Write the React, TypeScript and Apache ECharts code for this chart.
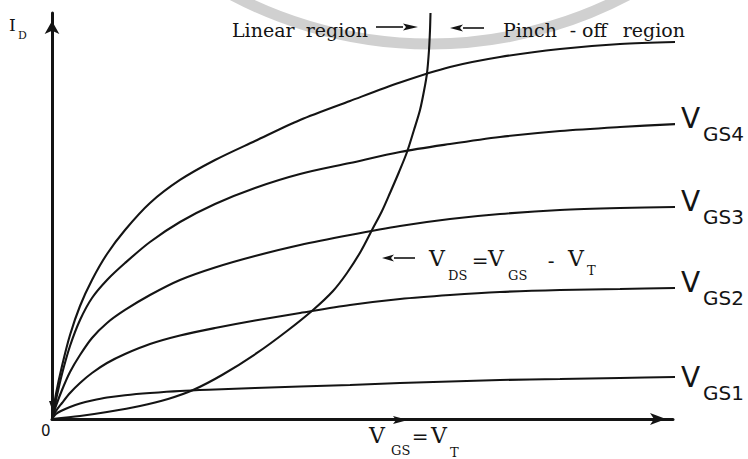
import React, { useEffect, useRef } from "react";
import * as echarts from "echarts";

// Drain characteristics in relative units (0-100 on each axis).
// Common V_DS sample positions shared by the four V_GS curves and the top curve.
const vds = [
  0, 0.64, 1.61, 2.9, 4.51, 6.44, 8.86, 11.76, 15.78, 20.61, 26.25, 32.69, 39.94, 47.99, 56.04,
  64.09, 72.14, 81.8, 91.47, 100.64,
];
const idTop = [
  0, 6.16, 13.05, 20.69, 27.83, 34.24, 40.64, 46.55, 53.2, 58.87, 63.79, 68.47, 73.65, 78.33, 82.88,
  86.7, 89.16, 91.13, 92.36, 92.86,
];
const idVgs4 = [
  0, 4.68, 11.08, 17.98, 24.38, 29.8, 34.24, 38.42, 43.6, 48.52, 52.96, 56.9, 60.34, 63.05, 65.76,
  67.73, 69.46, 70.94, 71.92, 72.66,
];
const idVgs3 = [
  0, 3.2, 7.14, 11.58, 15.76, 19.95, 23.65, 26.85, 30.54, 34.24, 37.32, 40.15, 42.86, 45.32, 47.54,
  49.26, 50.49, 51.48, 51.97, 52.22,
];
const idVgs2 = [
  0, 1.97, 3.94, 6.4, 8.87, 11.33, 13.79, 16.01, 18.47, 20.57, 22.41, 24.26, 26.11, 28.08, 29.56,
  30.54, 31.28, 31.77, 32.02, 32.27,
];
const idVgs1 = [
  0, 1.23, 2.09, 2.96, 3.82, 4.56, 5.3, 5.86, 6.4, 6.9, 7.27, 7.64, 8.0, 8.37, 8.87, 9.24, 9.61,
  9.85, 10.1, 10.34,
];
// Locus V_DS = V_GS - V_T separating the linear and pinch-off regions
const locusVds = [
  0, 4.51, 8.86, 14.17, 18.68, 22.71, 27.38, 33.01, 37.84, 42.03, 45.25, 47.5, 49.76, 51.53, 53.14,
  54.43, 55.88, 57.17, 58.29, 59.26, 59.9, 60.39, 60.71, 60.87, 60.95,
];
const locusId = [
  0, 0.74, 1.72, 3.2, 4.93, 7.14, 10.84, 16.26, 21.67, 26.85, 31.53, 35.96, 41.38, 46.55, 51.23,
  55.67, 60.84, 65.76, 71.18, 76.11, 80.79, 85.22, 90.89, 95.81, 100,
];

const curveLabels = ["GS4", "GS3", "GS2", "GS1"];
const curveLabelCenters = [118, 201, 282, 377];

const INK = "#141414";
const SERIF = '"DejaVu Serif", serif';
const SANS = '"DejaVu Sans", sans-serif';

const zip = (xs: number[], ys: number[]) => xs.map((x, i) => [x, ys[i]]);

function text(x: number, y: number, str: string, size: number, family = SERIF, align = "left") {
  return {
    type: "text",
    x,
    y,
    z: 100,
    style: {
      text: str,
      font: `${size}px ${family}`,
      fill: INK,
      align,
      textAlign: align,
      verticalAlign: "middle",
      textVerticalAlign: "middle",
    },
  };
}

function arrow(x1: number, x2: number, y: number, headLen: number, halfW: number) {
  // straight arrow from x1 (tail) to x2 (tip)
  const dir = x2 > x1 ? 1 : -1;
  const base = x2 - dir * headLen;
  return [
    { type: "line", z: 100, shape: { x1, y1: y, x2: base, y2: y }, style: { stroke: INK, lineWidth: 1.6 } },
    {
      type: "polygon",
      z: 100,
      shape: { points: [[x2, y], [base, y - halfW], [base + dir * 3, y], [base, y + halfW]] },
      style: { fill: INK },
    },
  ];
}

export default function App() {
  const ref = useRef<HTMLDivElement>(null);

  useEffect(() => {
    if (!ref.current) return;
    const chart = echarts.init(ref.current, null, { renderer: "svg" });

    const lineSeries = (data: number[][]) => ({
      type: "line",
      data,
      smooth: 0.3,
      showSymbol: false,
      symbol: "none",
      clip: false,
      lineStyle: { color: INK, width: 2.1 },
      z: 5,
    });

    const graphics: any[] = [
      // faint ring in the page background
      {
        type: "arc",
        z: 0,
        shape: { cx: 430, cy: -380, r: 424, startAngle: 1.0, endAngle: 2.14 },
        style: { stroke: "#d0d0d0", lineWidth: 11, fill: "none" },
      },
      text(9, 25, "I", 17),
      text(18, 35, "D", 11),
      text(41, 431, "0", 15, SANS),
      text(232, 30, "Linear", 19),
      text(368, 30, "region", 19, SERIF, "right"),
      ...arrow(376, 418, 27, 15, 3.5),
      ...arrow(484, 450, 28, 13, 3.5),
      text(503, 30, "Pinch", 19),
      text(573, 30, "-", 19, SERIF, "center"),
      text(582, 30, "off", 19),
      text(685, 30, "region", 19, SERIF, "right"),
      ...arrow(415, 382, 258, 12, 3.5),
      text(429, 258, "V", 22),
      text(448, 275, "DS", 13),
      text(480, 261, "=", 20, SERIF, "center"),
      text(488, 258, "V", 22),
      text(508, 275, "GS", 13),
      text(551, 261, "-", 20, SERIF, "center"),
      text(568, 258, "V", 22),
      text(587, 270, "T", 13),
      text(369, 435, "V", 22),
      text(391, 450, "GS", 13),
      text(420, 437, "=", 20, SERIF, "center"),
      text(431, 435, "V", 22),
      text(450, 452, "T", 13),
      // arrowheads on the V_DS axis and at the origin
      {
        type: "polygon",
        z: 50,
        shape: { points: [[393, 416], [408, 420], [393, 424], [396, 420]] },
        style: { fill: INK },
      },
      {
        type: "polygon",
        z: 50,
        shape: { points: [[49, 401], [57, 401], [53, 412]] },
        style: { fill: INK },
      },
    ];

    curveLabels.forEach((lab, i) => {
      const cy = curveLabelCenters[i];
      graphics.push(text(681, cy, "V", 28, SANS));
      graphics.push(text(703, cy + 16, lab, 20, SANS));
    });

    chart.setOption({
      animation: false,
      backgroundColor: "#ffffff",
      grid: { left: 52, top: 13, right: 75, bottom: 40, containLabel: false },
      xAxis: {
        type: "value",
        min: 0,
        max: 100,
        splitLine: { show: false },
        axisTick: { show: false },
        axisLabel: { show: false },
        axisLine: {
          show: true,
          onZero: false,
          symbol: ["none", "arrow"],
          symbolSize: [9, 16],
          symbolOffset: [0, -7],
          lineStyle: { color: INK, width: 3 },
        },
      },
      yAxis: {
        type: "value",
        min: 0,
        max: 100,
        splitLine: { show: false },
        axisTick: { show: false },
        axisLabel: { show: false },
        axisLine: {
          show: true,
          onZero: false,
          symbol: ["none", "arrow"],
          symbolSize: [11, 13],
          symbolOffset: [0, -8],
          lineStyle: { color: INK, width: 3 },
        },
      },
      series: [
        lineSeries(zip(vds, idTop)),
        lineSeries(zip(vds, idVgs4)),
        lineSeries(zip(vds, idVgs3)),
        lineSeries(zip(vds, idVgs2)),
        lineSeries(zip(vds, idVgs1)),
        lineSeries(zip(locusVds, locusId)),
      ],
      graphic: graphics,
    });

    return () => chart.dispose();
  }, []);

  return (
    <div
      ref={ref}
      style={{ position: "fixed", left: 0, top: 0, width: 748, height: 459, background: "#fff" }}
    />
  );
}
